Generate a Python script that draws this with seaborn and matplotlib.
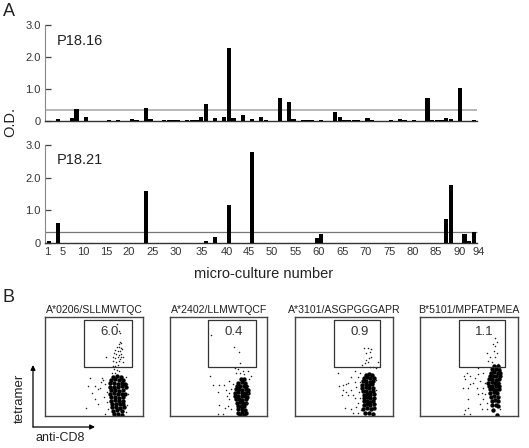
import pandas as pd
import matplotlib.pyplot as plt
import seaborn as sns

# micro-culture O.D. values
p1816_cultures = [4, 7, 8, 10, 15, 17, 20, 21, 23, 24, 27, 28, 29, 30, 32, 33, 34, 35, 36, 38, 40, 41, 42, 44, 46, 48,
                  49, 52, 54, 55, 57, 58, 59, 61, 64, 65, 66, 67, 68, 69, 71, 72, 76, 78, 79, 81, 84, 85, 86, 87, 88, 89, 91, 94]
p1816_od = [0.05, 0.08, 0.37, 0.12, 0.03, 0.02, 0.05, 0.03, 0.42, 0.06, 0.02, 0.02, 0.02, 0.02, 0.02, 0.02, 0.02, 0.13, 0.52, 0.09, 0.13, 2.27, 0.08, 0.18, 0.06, 0.13,
            0.02, 0.72, 0.58, 0.05, 0.02, 0.02, 0.02, 0.02, 0.28, 0.12, 0.02, 0.02, 0.02, 0.02, 0.1, 0.03, 0.02, 0.05, 0.02, 0.02, 0.72, 0.02, 0.02, 0.02, 0.1, 0.05, 1.02, 0.03]
p1821_cultures = [2, 4, 23, 36, 38, 41, 46, 60, 61, 64, 88, 89, 92, 93, 94]
p1821_od = [0.05, 0.62, 1.6, 0.07, 0.17, 1.15, 2.8, 0.15, 0.27, 0.01, 0.72, 1.78, 0.28, 0.05, 0.35]
threshold = 0.35
x_labels = [1, 5, 10, 15, 20, 25, 30, 35, 40, 45, 50, 55, 60, 65, 70, 75, 80, 85, 90, 94]
y_labels = ['0', '1.0', '2.0', '3.0']

# panel B, dots (box runs 0-296 each way, y from the top)
titles = ['A*0206/SLLMWTQC', 'A*2402/LLMWTQCF', 'A*3101/ASGPGGGAPR', 'B*5101/MPFATPMEA']
percents = ['6.0', '0.4', '0.9', '1.1']

core1_x = [205,218,229, 198,210,222,235, 195,207,219,231,241, 197,209,221,233,243, 199,211,223,236, 197,208,220,232,242, 200,212,224,236, 198,210,222,234, 201,213,225,236, 203,215,227,238, 205,218,231, 208,220,232]
core1_y = [178,176,180, 188,186,189,187, 198,197,199,198,200, 209,208,210,207,209, 219,218,220,219, 229,228,230,229,231, 240,239,241,240, 250,249,251,250, 260,259,261,260, 270,269,271,270, 280,279,281, 291,290,292]
dots1_x = [226,222,228,216,224,230,212,220,226,232,208,214,222,228,205,212,220,226,206,214,222,204,212,220,230,236,208,216,202,212,222,218,226,184,234,224,136,123,151,151,131,176,166,171,161,141,161,181,186,178,186,190,182,246,250,248,245,244,170]
dots1_y = [73,80,78,88,90,92,98,100,102,95,108,110,112,110,120,122,120,124,132,134,130,145,146,144,118,118,156,158,168,166,160,20,48,118,134,40,183,273,246,206,206,188,213,183,261,228,216,200,225,240,255,275,290,200,230,262,180,285,195]

core2_x = [216,224, 208,218,228, 204,214,224,232, 200,210,220,230,236, 198,208,218,228,236, 198,208,218,228,234, 200,210,220,230, 203,213,223,232, 206,216,226, 208,218,228, 208,220,230, 212,224]
core2_y = [186,185, 196,195,197, 206,205,207,206, 216,215,217,216,218, 226,225,227,226,228, 236,235,237,236,238, 246,245,247,246, 256,255,257,256, 266,265,267, 276,275,277, 286,285,287, 294,293]
dots2_x = [124,196,211,214,198,208,221,236,226,241,123,131,148,164,146,169,149,168,161,146,176,174,181,191,186,181,186,236,238,234,201,214,181,246]
dots2_y = [53,89,104,136,151,154,161,161,171,186,176,204,204,204,223,219,264,273,291,291,266,236,226,201,216,246,276,226,206,256,166,168,191,176]

core3_x = [214,224,234, 208,218,228,238, 206,216,226,236, 204,214,224,234, 204,214,224,236, 206,216,226,236, 208,218,228,238, 208,218,228,238, 208,218,228,236, 208,218,228,238, 206,218,230,240, 212,224,236]
core3_y = [172,170,173, 182,180,183,181, 192,190,193,191, 202,200,203,201, 212,210,213,211, 222,220,223,221, 232,230,233,231, 242,240,243,241, 252,250,253,251, 262,260,263,261, 274,272,275,273, 288,287,289]
dots3_x = [208,221,226,216,231,214,224,231,211,221,251,204,236,246,226,131,181,134,144,154,161,146,156,141,171,176,181,191,186,196,181,191,151,171,176,191,171,194,186,198,201,196,246,244,236,161]
dots3_y = [93,93,103,106,96,128,123,118,138,133,133,143,148,153,148,166,160,206,203,200,196,218,223,233,218,233,193,178,208,193,243,258,271,275,288,288,178,223,268,243,278,168,188,218,268,233]

core4_x = [224,234, 218,228,238, 214,224,234,242, 210,220,230,240, 208,218,228,238, 206,216,226,236, 208,218,228,238, 210,220,230,238, 212,222,232, 214,224,234, 216,226,236, 218,228,236, 220,232]
core4_y = [146,145, 156,155,157, 166,165,167,166, 176,175,177,176, 186,185,187,186, 196,195,197,196, 206,205,207,206, 216,215,217,216, 226,225,227, 238,237,239, 250,249,251, 264,263,265, 278,292]
dots4_x = [226,231,221,226,224,201,211,226,231,206,218,236,241,131,141,151,136,151,166,144,129,161,176,181,171,186,191,176,181,186,196,191,146,144,134,131,151,191,201,241,238,241,176,196,201]
dots4_y = [63,73,81,86,101,106,118,118,106,131,133,141,151,176,166,176,186,201,181,211,211,196,171,191,211,226,246,231,261,276,196,166,246,273,278,291,291,211,256,196,236,276,151,231,276]

sns.set_style('white')
plt.rcParams['font.family'] = ['Liberation Sans', 'DejaVu Sans']

W, H = 529, 448
fig = plt.figure(figsize=(W / 100, H / 100), dpi=100)


def px_axes(left, top, right, bottom):
    return fig.add_axes([left / W, 1 - bottom / H, (right - left) / W, (bottom - top) / H])


def px_text(x, y, s, **kw):
    fig.text(x / W, 1 - y / H, s, va='center', ha=kw.pop('ha', 'center'), color='#222222', **kw)


def od_panel(top, bottom, cultures, od, line_color, line_width):
    # axes run a little past the baseline so the "94" label still gets drawn
    ax = px_axes(45, top, 481.2, bottom)
    df = pd.DataFrame({'culture': cultures, 'od': od})
    sns.barplot(data=df, x='culture', y='od', native_scale=True, width=0.92, color='black', saturation=1,
                linewidth=0, ax=ax, zorder=3)
    ax.hlines(threshold, 1.19, 94.7, color=line_color, lw=line_width, zorder=2)
    ax.set_ylim(0, 3)
    ax.set_yticks([0, 1, 2, 3], y_labels, fontsize=8, color='#333333')
    ax.tick_params(axis='y', direction='in', length=4, width=0.9, color='#444444', pad=3, left=True)
    ax.set_xlabel('')
    ax.set_ylabel('')
    sns.despine(ax=ax)
    ax.spines['left'].set_color('#888888')
    ax.spines['bottom'].set_color('#333333')
    ax.spines['bottom'].set_linewidth(1.0)
    ax.spines['bottom'].set_bounds(1.19, 94.7)
    return ax


ax_top = od_panel(25, 121, p1816_cultures, p1816_od, '#aaaaaa', 1.2)
ax_top.set_xticks([])
ax_top.set_xlim(1.19, 95.6)
ax_bot = od_panel(145, 243, p1821_cultures, p1821_od, '#777777', 0.9)
# label spots in the source do not sit exactly under their cultures
ax_bot.set_xticks([1.62, 5.08, 9.41, 14.39, 19.37, 24.56, 29.54, 35.17, 40.58, 45.34, 50.32, 55.45, 60.5, 65.5,
                   70.67, 75.8, 80.84, 85.8, 91, 95.1], x_labels, fontsize=8, color='#333333')
ax_bot.tick_params(axis='x', length=0, pad=3)
ax_bot.set_xlim(1.19, 95.6)

px_text(3, 11, 'A', fontsize=13, ha='left')
px_text(3, 297, 'B', fontsize=13, ha='left')
px_text(57, 41, 'P18.16', fontsize=10.5, ha='left')
px_text(57, 160, 'P18.21', fontsize=10.5, ha='left')
px_text(10, 122, 'O.D.', fontsize=10.5, rotation=90)
px_text(264, 274, 'micro-culture number', fontsize=10.5)

boxes = [(44.7, 143.3), (170, 267.3), (295, 392.7), (420.3, 518)]
gates = [(119, 263), (116, 261), (118, 258), (116, 258)]
cores = [(core1_x, core1_y), (core2_x, core2_y), (core3_x, core3_y), (core4_x, core4_y)]
dots = [(dots1_x, dots1_y), (dots2_x, dots2_y), (dots3_x, dots3_y), (dots4_x, dots4_y)]

for i in range(4):
    ax = px_axes(boxes[i][0], 317.3, boxes[i][1], 416)
    sns.scatterplot(x=cores[i][0], y=cores[i][1], s=10, color='black', linewidth=0, ax=ax)
    sns.scatterplot(x=dots[i][0], y=dots[i][1], s=1.2, color='#222222', linewidth=0, ax=ax)
    ax.set_xlim(0, 296)
    ax.set_ylim(296, 0)
    ax.set_xticks([])
    ax.set_yticks([])
    for sp in ax.spines.values():
        sp.set_visible(True)
        sp.set_color('#444444')
        sp.set_linewidth(1.0)
    g0, g1 = gates[i]
    ax.plot([g0, g1, g1, g0, g0], [8, 8, 148, 148, 8], color='#333333', lw=0.9)
    ax.text(195, 44, percents[i], ha='center', va='center', fontsize=9.5, color='#333333')
    px_text(sum(boxes[i]) / 2, 310, titles[i], fontsize=7.6)

# tetramer / anti-CD8 arrows
for end in [(33, 365), (95, 427)]:
    fig.add_artist(plt.matplotlib.patches.FancyArrowPatch(
        (33 / W, 1 - 427 / H), (end[0] / W, 1 - end[1] / H), transform=fig.transFigure,
        arrowstyle='-|>', mutation_scale=7, color='black', lw=0.9, shrinkA=0, shrinkB=0))
px_text(20, 398, 'tetramer', fontsize=9.5, rotation=90)
px_text(60, 438, 'anti-CD8', fontsize=9)

fig.savefig('out.png', dpi=100)
